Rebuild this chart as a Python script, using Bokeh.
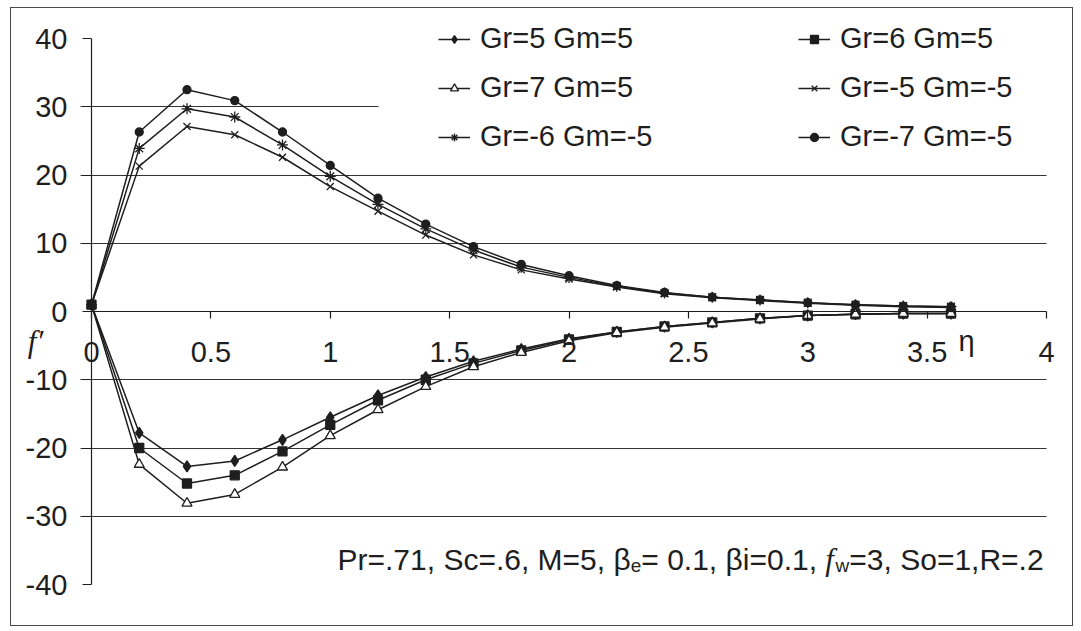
from bokeh.plotting import figure
from bokeh.models import (Label, Legend, LegendItem, SingleIntervalTicker, FixedTicker,
                          Grid, Range1d, CustomJSTickFormatter)
from bokeh.embed import file_html
from bokeh.resources import INLINE

# ---------------- data ----------------
eta = [0.0, 0.2, 0.4, 0.6, 0.8, 1.0, 1.2, 1.4, 1.6, 1.8, 2.0,
       2.2, 2.4, 2.6, 2.8, 3.0, 3.2, 3.4, 3.6]

gr5_gm5 = [1.0, -17.8, -22.7, -21.9, -18.8, -15.5, -12.3, -9.6, -7.3, -5.5, -4.0,
           -3.0, -2.2, -1.6, -1.0, -0.6, -0.4, -0.3, -0.3]
gr6_gm5 = [1.0, -20.0, -25.2, -24.0, -20.5, -16.6, -13.0, -10.0, -7.6, -5.7, -4.1,
           -3.0, -2.2, -1.6, -1.0, -0.6, -0.4, -0.3, -0.3]
gr7_gm5 = [1.0, -22.4, -28.1, -26.8, -22.8, -18.2, -14.4, -11.0, -8.1, -6.0, -4.3,
           -3.1, -2.3, -1.7, -1.1, -0.6, -0.4, -0.3, -0.3]
grm5_gmm5 = [1.0, 21.3, 27.1, 25.9, 22.6, 18.3, 14.7, 11.2, 8.3, 6.1, 4.75,
             3.6, 2.6, 2.0, 1.6, 1.2, 0.9, 0.7, 0.6]
grm6_gmm5 = [1.0, 23.9, 29.7, 28.5, 24.4, 19.8, 15.7, 12.1, 9.0, 6.5, 5.0,
             3.7, 2.7, 2.1, 1.7, 1.3, 1.0, 0.8, 0.7]
grm7_gmm5 = [1.0, 26.3, 32.5, 30.9, 26.3, 21.4, 16.6, 12.8, 9.5, 6.9, 5.25,
             3.8, 2.8, 2.1, 1.7, 1.3, 1.0, 0.8, 0.7]

labels = ["Gr=5 Gm=5", "Gr=6 Gm=5", "Gr=7 Gm=5",
          "Gr=-5 Gm=-5", "Gr=-6 Gm=-5", "Gr=-7 Gm=-5"]
series = [gr5_gm5, gr6_gm5, gr7_gm5, grm5_gmm5, grm6_gmm5, grm7_gmm5]
markers = ["diamond", "square", "triangle", "x", "asterisk", "circle"]

x_axis_bounds = (0, 4)
y_axis_bounds = (-40, 40)
x_ticks_interval = 0.5
y_ticks_interval = 10
grid_full = [-30, -20, -10, 10, 20]
grid_short = [30]

annotation_parts = [  # (text, kind)
    ("Pr=.71, Sc=.6, M=5, \u03b2", "main"),
    ("e", "sub"),
    ("= 0.1, \u03b2i=0.1, ", "main"),
    ("f", "ital"),
    ("w", "sub"),
    ("=3, So=1,R=.2", "main"),
]

# ---------------- layout (page pixels) ----------------
INK = "#1e1e1e"
FONT = "Liberation Sans"
FS = 29

FIG_L, FIG_T = 11, 8          # content origin on the page (inside the border)
W, H = 1063, 619
X0_PX, X4_PX = 91, 1046       # page x of eta=0 and eta=4
Y40_PX, YM40_PX = 38, 584     # page y of +40 and -40
sx = (X4_PX - X0_PX) / 4.0
sy = (YM40_PX - Y40_PX) / 80.0

def px_x(px):
    return (px - X0_PX) / sx

def px_y(py):
    return 40.0 - (py - Y40_PX) / sy

p = figure(width=W, height=H, output_backend="svg", toolbar_location=None,
           x_range=Range1d(px_x(FIG_L), px_x(FIG_L + W)),
           y_range=Range1d(px_y(FIG_T + H), px_y(FIG_T)),
           min_border=0)
p.outline_line_color = None
p.background_fill_color = "white"
p.border_fill_color = "white"
p.styles = {"border": "1px solid #4a4a4a", "margin-left": f"{FIG_L - 1}px",
            "margin-top": f"{FIG_T - 1}px"}

# grids
p.xgrid.visible = False
p.ygrid.ticker = FixedTicker(ticks=grid_full)
p.ygrid.grid_line_color = "#333333"
p.ygrid.grid_line_width = 1.1
p.ygrid.cross_bounds = (px_x(80), 4)
g30 = Grid(dimension=1, ticker=FixedTicker(ticks=grid_short),
           grid_line_color="#333333", grid_line_width=1.1,
           cross_bounds=(px_x(80), px_x(378)))
p.add_layout(g30)

# axes
xa = p.xaxis[0]
xa.fixed_location = 0
xa.bounds = x_axis_bounds
xa.ticker = SingleIntervalTicker(interval=x_ticks_interval, num_minor_ticks=0)
xa.formatter = CustomJSTickFormatter(code="return String(Math.round(tick*10)/10);")
xa.major_tick_in = 0
xa.major_tick_out = 7
xa.minor_tick_out = 0
xa.minor_tick_in = 0
xa.major_label_standoff = 23

ya = p.yaxis[0]
ya.fixed_location = 0
ya.bounds = y_axis_bounds
ya.ticker = SingleIntervalTicker(interval=y_ticks_interval, num_minor_ticks=0)
ya.formatter = CustomJSTickFormatter(code="return String(Math.round(tick));")
ya.major_tick_in = 0
ya.major_tick_out = 9
ya.minor_tick_out = 0
ya.minor_tick_in = 0
ya.major_label_standoff = 15

for ax in (xa, ya):
    ax.axis_line_color = INK
    ax.axis_line_width = 1.2
    ax.major_tick_line_color = INK
    ax.major_tick_line_width = 1.2
    ax.major_label_text_font = FONT
    ax.major_label_text_font_size = f"{FS}px"
    ax.major_label_text_color = INK

# series
items = {}
msize = {"diamond": 11, "square": 9, "triangle": 10, "x": 10, "asterisk": 11, "circle": 8}
for lab, vals, mk in zip(labels, series, markers):
    rl = p.line(eta, vals, line_color=INK, line_width=1.5)
    fill = "white" if mk == "triangle" else INK
    rs = p.scatter(eta, vals, marker=mk, size=msize[mk], line_color=INK,
                   fill_color=fill, line_width=1.3)
    items[lab] = LegendItem(label=lab, renderers=[rl, rs])

col1 = [items[labels[0]], items[labels[2]], items[labels[4]]]
col2 = [items[labels[1]], items[labels[3]], items[labels[5]]]

PAD = 6
LEG_BOTTOM_PX = 153
for its, glyph_px in ((col1, 444), (col2, 804)):
    leg = Legend(items=its,
                 location=(glyph_px - PAD - FIG_L, FIG_T + H - LEG_BOTTOM_PX),
                 orientation="vertical", padding=PAD, margin=0, spacing=16,
                 glyph_width=32, glyph_height=20, label_standoff=10,
                 label_height=32, label_text_font=FONT,
                 label_text_font_size=f"{FS}px", label_text_color=INK,
                 background_fill_color="white", background_fill_alpha=1.0,
                 border_line_color=None)
    p.add_layout(leg)

# axis titles
p.add_layout(Label(x=px_x(35), y=px_y(341), text="f\u2032",
                   text_font="Liberation Serif", text_font_style="italic",
                   text_font_size="31px", text_color=INK,
                   text_align="center", text_baseline="middle"))
p.add_layout(Label(x=px_x(966), y=px_y(340), text="\u03b7",
                   text_font=FONT, text_font_size=f"{FS}px", text_color=INK,
                   text_align="center", text_baseline="middle"))

# parameter annotation (with subscripts)
WID = {'P': 667, 'r': 333, '=': 584, '.': 278, '7': 556, '1': 556, ',': 278, ' ': 278,
       'S': 667, 'c': 500, '6': 556, 'M': 833, '5': 556, '\u03b2': 575, 'e': 556,
       '0': 556, 'i': 222, 'f': 330, 'w': 722, '3': 556, 'o': 556, 'R': 722, '2': 556}
sizes = {"main": 30, "sub": 19, "ital": 31}

def tw(s, fs):
    return sum(WID.get(ch, 556) for ch in s) * fs / 1000.0

cur = 337
base_py = 559
for t, kind in annotation_parts:
    fs = sizes[kind]
    py = base_py + (6 if kind == "sub" else 0)
    p.add_layout(Label(x=px_x(cur), y=px_y(py), text=t,
                       text_font="Liberation Serif" if kind == "ital" else FONT,
                       text_font_style="italic" if kind == "ital" else "normal",
                       text_font_size=f"{fs}px", text_color=INK,
                       text_align="left", text_baseline="alphabetic"))
    cur += tw(t, fs)

open("out.html", "w").write(file_html(p, INLINE))
